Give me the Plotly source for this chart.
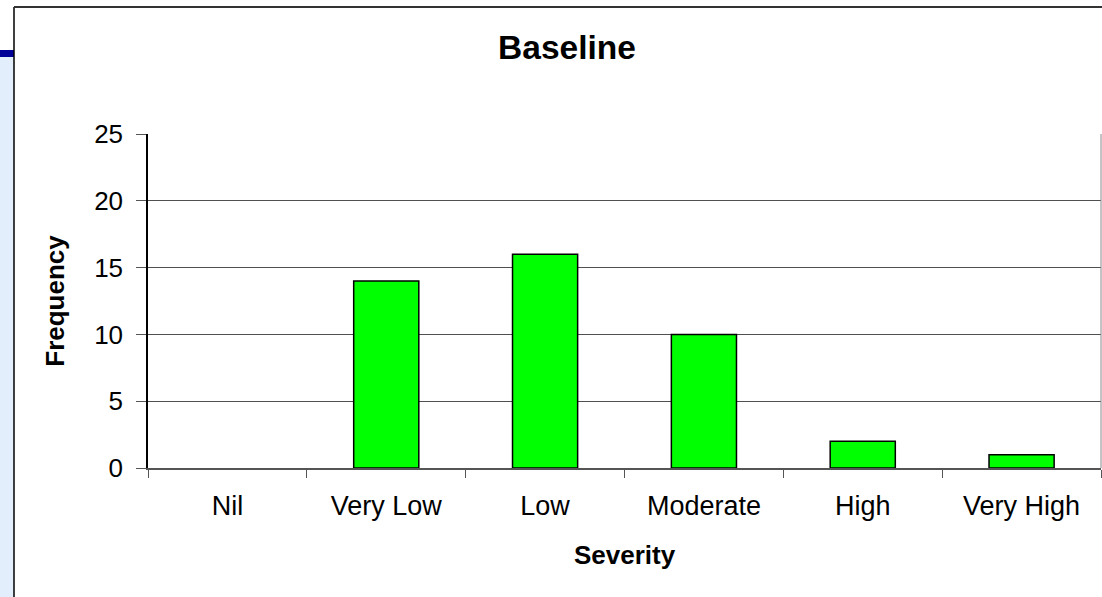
import plotly.graph_objects as go

categories = ["Nil", "Very Low", "Low", "Moderate", "High", "Very High"]
frequency = [0, 14, 16, 10, 2, 1]
y_ticks = [0, 5, 10, 15, 20, 25]

W, H = 1102, 597
L, R, T, B = 148, 1, 134, 129
pw = W - L - R
ph = H - T - B

def px(x):
    return (x - L) / pw

def py(y):
    return (H - B - y) / ph

FONT = "Liberation Sans, Arial, sans-serif"

fig = go.Figure()
fig.add_trace(go.Bar(
    x=categories, y=frequency,
    marker=dict(color="#00FF00",
                line=dict(color="#000000", width=[1.5 if v > 0 else 0 for v in frequency])),
    hoverinfo="x+y",
))

shapes = [
    # slide background strip on the left
    dict(type="rect", xref="paper", yref="paper", x0=px(0), x1=px(14), y0=py(597), y1=py(57),
         fillcolor="#e2eefb", line=dict(width=0), layer="below"),
    dict(type="rect", xref="paper", yref="paper", x0=px(0), x1=px(14), y0=py(57), y1=py(50),
         fillcolor="#000099", line=dict(width=0), layer="below"),
    # chart border
    dict(type="line", xref="paper", yref="paper", x0=px(14), x1=px(14), y0=py(597), y1=py(7),
         line=dict(color="#000000", width=1.5)),
    dict(type="line", xref="paper", yref="paper", x0=px(14), x1=px(1102), y0=py(7), y1=py(7),
         line=dict(color="#333333", width=2)),
    # plot area right border
    dict(type="line", xref="paper", yref="paper", x0=1, x1=1, y0=0, y1=1,
         line=dict(color="#888888", width=1)),
]

fig.update_layout(
    width=W, height=H,
    margin=dict(l=L, r=R, t=T, b=B, pad=0),
    paper_bgcolor="white", plot_bgcolor="white",
    showlegend=False,
    bargap=0.59,
    font=dict(family=FONT, color="#000000", size=26),
    title=dict(text="<b>Baseline</b>", x=px(567), xref="paper", xanchor="center",
               y=1 - 47 / H, yanchor="middle", font=dict(size=33.5, family=FONT)),
    shapes=shapes,
    xaxis=dict(
        showgrid=False, showline=True, linecolor="#555555", linewidth=2,
        ticks="outside", ticklen=8, tickcolor="#555555", tickwidth=1,
        tickson="boundaries", ticklabelstandoff=13,
        tickfont=dict(size=27),
        title=dict(text="<b>Severity</b>", font=dict(size=26), standoff=25),
    ),
    yaxis=dict(
        range=[0, 25], tickvals=y_ticks, showgrid=True, gridcolor="#505050", gridwidth=1,
        showline=True, linecolor="#000000", linewidth=1.5,
        ticks="outside", ticklen=10, tickcolor="#555555", tickwidth=1,
        ticklabelstandoff=8,
        tickfont=dict(size=26), zeroline=False,
        title=dict(text="<b>Frequency</b>", font=dict(size=26), standoff=22),
    ),
)

fig.write_html("out.html", config={"displayModeBar": False},
               post_script="document.body.style.margin='0';")
